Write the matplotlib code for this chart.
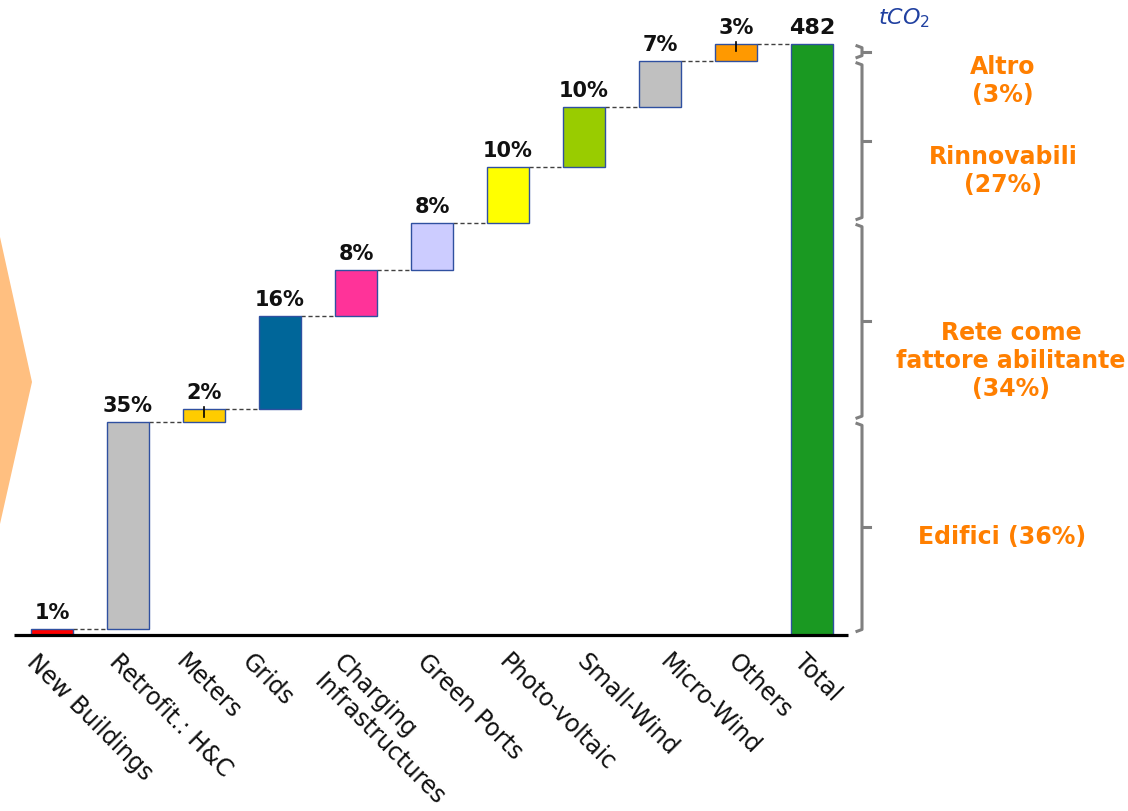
import numpy as np
import matplotlib; matplotlib.use("Agg")
import matplotlib.pyplot as plt
from matplotlib.patches import Polygon

# ---------- dati (tCO2) ----------
categorie = ["New Buildings", "Retrofit.: H&C", "Meters", "Grids",
             "Charging\nInfrastructures", "Green Ports", "Photo-voltaic",
             "Small-Wind", "Micro-Wind", "Others", "Total"]
valori    = [5, 169, 10, 76, 38, 38, 46, 49, 37, 14]
etichette = ["1%", "35%", "2%", "16%", "8%", "8%", "10%", "10%", "7%", "3%"]
totale    = 482
colori    = ["#FF0000", "#C0C0C0", "#FFCC00", "#006699", "#FF3399", "#CCCCFF",
             "#FFFF00", "#99CC00", "#C0C0C0", "#FF9900", "#1A9922"]
# gruppi per le graffe a destra: (testo, primo indice, ultimo indice)
gruppi = [("Edifici (36%)", 0, 1),
          ("Rete come\nfattore abilitante\n(34%)", 2, 5),
          ("Rinnovabili\n(27%)", 6, 8),
          ("Altro\n(3%)", 9, 9)]

# ---------- layout (pixel -> dati) ----------
W, H = 1128, 812
X0, DX = 52, 76            # centro prima barra, passo
Y0, SY = 636, 591/482      # baseline in px dall'alto, px per tCO2
def px2x(p): return (p - X0)/DX
def px2y(p): return (Y0 - p)/SY

ORANGE = "#FF7F00"; GRAY = "#808080"; EDGE = "#2F50A0"
lab_dx = [-13, -7, -16, -26, -10, -3, 3, 5, 12, 4, -6]   # offset etichette asse (px)
txt_px = [(1002, 537), (1011, 361), (1003, 171), (1003, 81)]  # centri testi arancio (px)

fig = plt.figure(figsize=(W/100, H/100), dpi=100)
ax = fig.add_axes([0, 0, 1, 1])
ax.set_xlim(px2x(0), px2x(W)); ax.set_ylim(px2y(H), px2y(0))
ax.axis("off")

# freccia decorativa a sinistra
ax.add_patch(Polygon([(px2x(-5), px2y(238)), (px2x(0), px2y(238)), (px2x(32), px2y(383)),
                      (px2x(0), px2y(525)), (px2x(-5), px2y(525))],
                     closed=True, fc="#FFBF80", ec="none"))

# barre a cascata
cum = np.concatenate([[0], np.cumsum(valori)])
n = len(valori)
bw = 0.56
for i in range(n):
    ax.bar(i, valori[i], bottom=cum[i], width=bw, color=colori[i], edgecolor=EDGE, lw=1, zorder=3)
    ax.annotate(etichette[i], xy=(i, cum[i+1]), xytext=(0, 7), textcoords="offset pixels",
                ha="center", va="bottom", fontsize=15, fontweight="bold", color="#111111")
    # collegamenti tratteggiati
    ax.plot([i + bw/2, i + 1 - bw/2], [cum[i+1], cum[i+1]], ls=(0, (3, 2)),
            color="#404040", lw=1, zorder=2)
    if 0 < i and valori[i] < 15:   # piccola linea guida etichetta
        ax.plot([i, i], [cum[i+1] + 2, cum[i+1] - 6], color="black", lw=1.2, zorder=4)
ax.bar(n, totale, width=bw, color=colori[n], edgecolor=EDGE, lw=1, zorder=3)
ax.annotate(str(totale), xy=(n, totale), xytext=(0, 7), textcoords="offset pixels",
            ha="center", va="bottom", fontsize=16, fontweight="bold", color="#111111")

# baseline
ax.plot([px2x(14), px2x(848)], [0, 0], color="black", lw=2.3, zorder=5, solid_capstyle="butt")

# etichette categorie
for i, lab in enumerate(categorie):
    ax.annotate(lab, xy=(i, 0), xytext=(lab_dx[i], -14), textcoords="offset pixels",
                rotation=-45, rotation_mode="anchor", ha="left", va="top",
                multialignment="left", fontsize=17, color="#111111")

# unita'
ax.text(px2x(904), px2y(18), r"$\mathit{tCO_2}$", ha="center", va="center",
        fontsize=16, color="#2040A0")

# graffe + testi a destra
xb, xh, xt = px2x(862), px2x(857), px2x(870)
for k, (txt, a, b) in enumerate(gruppi):
    lo, hi = cum[a] + 3, cum[b+1] - 1.5
    mid = (lo + hi)/2
    ax.plot([xh, xb, xb, xh], [hi, hi - 1.5, lo + 1.5, lo], color=GRAY, lw=2.2,
            solid_joinstyle="round", zorder=3)
    ax.plot([xb, xt], [mid, mid], color=GRAY, lw=2.2, zorder=3)
    ax.text(px2x(txt_px[k][0]), px2y(txt_px[k][1]), txt, ha="center", va="center",
            fontsize=17, fontweight="bold", color=ORANGE, linespacing=1.2)

fig.savefig("out.png", dpi=100)
